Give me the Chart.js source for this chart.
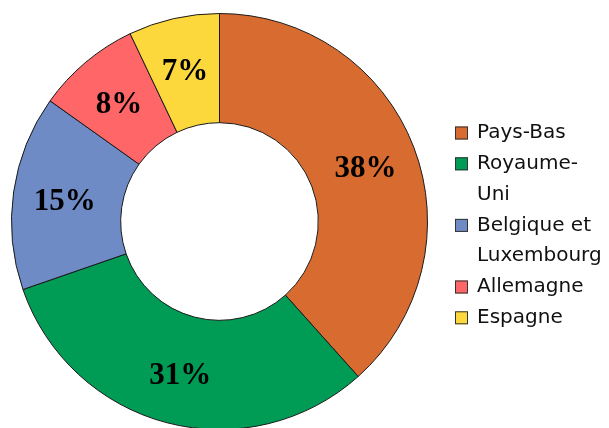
<!DOCTYPE html>
<html>
<head>
<meta charset="utf-8">
<script src="https://cdn.jsdelivr.net/npm/chart.js@4"></script>
<style>
  html, body { margin: 0; padding: 0; background: #fff; }
  #clip { width: 609px; height: 428px; overflow: hidden; }
  #wrap { width: 609px; height: 434px; position: relative; }
</style>
</head>
<body>
<div id="clip"><div id="wrap"><canvas id="chart1"></canvas></div></div>
<script>
// parts of the total, in percent
var countries = ['Pays-Bas', 'Royaume-Uni', 'Belgique et Luxembourg', 'Allemagne', 'Espagne'];
var legendLines = [['Pays-Bas'], ['Royaume-', 'Uni'], ['Belgique et', 'Luxembourg'], ['Allemagne'], ['Espagne']];
var shares = [38, 31, 15, 8, 7];
var sliceLabels = ['38%', '31%', '15%', '8%', '7%'];
var colours = ['#D86B2F', '#009B55', '#6F8BC6', '#FE6667', '#FDD83D'];

// percent labels a bit outside the middle of each slice
var sliceText = {
  id: 'sliceText',
  afterDatasetsDraw: function (chart) {
    var ctx = chart.ctx;
    var meta = chart.getDatasetMeta(0);
    ctx.save();
    ctx.font = 'bold 31px "Liberation Serif", serif';
    ctx.fillStyle = '#000';
    ctx.textAlign = 'center';
    ctx.textBaseline = 'middle';
    meta.data.forEach(function (arc, i) {
      var a = arc.getProps(['x', 'y', 'startAngle', 'endAngle', 'innerRadius', 'outerRadius'], true);
      var mid = (a.startAngle + a.endAngle) / 2;
      var r = (a.innerRadius + a.outerRadius) / 2 + 3;
      ctx.fillText(sliceLabels[i], a.x + Math.cos(mid) * r, a.y + Math.sin(mid) * r + 3);
    });
    ctx.restore();
  }
};

// legend on the right, with wrapped names
var sideLegend = {
  id: 'sideLegend',
  afterDraw: function (chart) {
    var ctx = chart.ctx;
    var x = 455, y = 133, lineH = 30.8;
    ctx.save();
    ctx.font = '20px "DejaVu Sans", sans-serif';
    ctx.textBaseline = 'middle';
    ctx.textAlign = 'left';
    legendLines.forEach(function (lines, i) {
      ctx.fillStyle = colours[i];
      ctx.fillRect(x, y - 6.5, 13, 13);
      ctx.strokeStyle = '#333';
      ctx.lineWidth = 1;
      ctx.strokeRect(x + 0.5, y - 6.5 + 0.5, 12, 12);
      ctx.fillStyle = '#111';
      lines.forEach(function (t) {
        ctx.fillText(t, x + 22, y);
        y += lineH;
      });
    });
    ctx.restore();
  }
};

var graph = document.getElementById('chart1');

var myChart = new Chart(graph, {
  type: 'doughnut',
  data: {
    labels: countries,
    datasets: [{
      data: shares,
      backgroundColor: colours,
      borderColor: '#1a1a1a',
      borderWidth: 1
    }]
  },
  options: {
    responsive: true,
    maintainAspectRatio: false,
    animation: false,
    cutout: '47.5%',
    layout: { padding: { left: 11, top: 13, right: 181, bottom: 4 } },
    plugins: {
      legend: { display: false },
      tooltip: { enabled: false }
    }
  },
  plugins: [sliceText, sideLegend]
});
</script>
</body>
</html>
